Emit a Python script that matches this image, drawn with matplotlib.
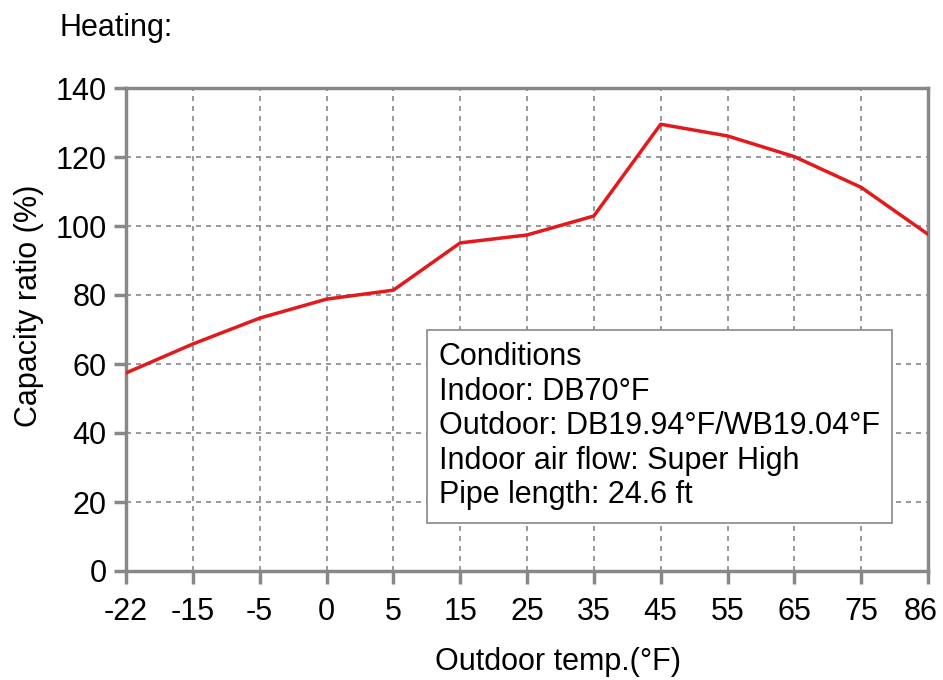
import numpy as np
import matplotlib
matplotlib.use("Agg")
import matplotlib.pyplot as plt
import matplotlib.transforms as mtransforms
from matplotlib import rcParams

rcParams['font.family'] = ['Liberation Sans', 'DejaVu Sans']

# outdoor temperature categories (equally spaced on the chart)
temps = ['-22', '-15', '-5', '0', '5', '15', '25', '35', '45', '55', '65', '75', '86']
capacity = [57.4, 65.8, 73.3, 78.8, 81.4, 95.1, 97.4, 102.9, 129.5, 126.1, 120.1, 111.2, 97.6]
yticks = [0, 20, 40, 60, 80, 100, 120, 140]
conditions = ['Conditions',
              'Indoor: DB70°F',
              'Outdoor: DB19.94°F/WB19.04°F',
              'Indoor air flow: Super High',
              'Pipe length: 24.6 ft']

fig = plt.figure(figsize=(9.43, 6.8), dpi=100)
ax = fig.add_axes([126/943, 1 - 571/680, (928-126)/943, (571-88)/680])

x = np.arange(len(temps))
ax.plot(x, capacity, color='#e3191c', lw=2.5, zorder=3)

ax.set_xlim(0, len(temps) - 1)
ax.set_ylim(0, 140)
ax.set_xticks(x)
ax.set_xticklabels(temps)
ax.set_yticks(yticks)
ax.tick_params(labelsize=22, length=9, width=2.5, color='#888888', pad=5)
ax.tick_params(axis='x', pad=10)
for s in ax.spines.values():
    s.set_color('#888888')
    s.set_linewidth(2.5)
ax.grid(True, color='#888888', ls=(0, (3, 3)), lw=1.2)

# last label sits a bit left of its tick, as in the original
last = ax.get_xticklabels()[-1]
last.set_transform(last.get_transform() + mtransforms.ScaledTranslation(-7/100, 0, fig.dpi_scale_trans))

ax.set_xlabel('Outdoor temp.(°F)', fontsize=22, labelpad=14, x=0.539)
ax.set_ylabel('Capacity ratio (%)', fontsize=22, labelpad=8, y=0.55)
fig.text(60/943, 1 - 28/680, 'Heating:', fontsize=22, va='center', ha='left')

ax.text(0.39, 0.474, '\n'.join(conditions), transform=ax.transAxes, fontsize=22,
        va='top', ha='left', linespacing=1.2, zorder=5,
        bbox=dict(boxstyle='square,pad=0.4', fc='white', ec='#888888', lw=1.2))

fig.savefig('out.png', dpi=100)
